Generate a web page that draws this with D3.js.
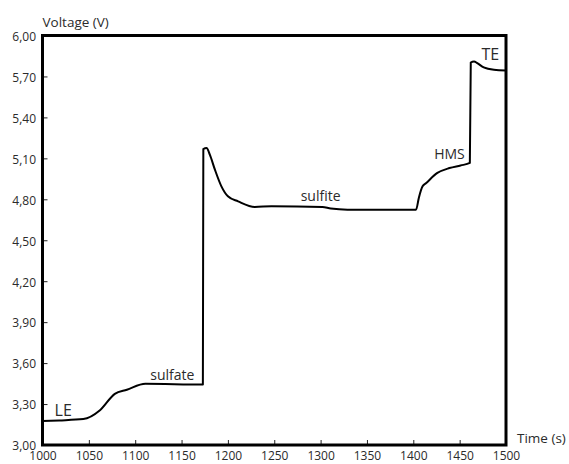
<!DOCTYPE html>
<html>
<head>
<meta charset="utf-8">
<script src="https://cdn.jsdelivr.net/npm/d3@7"></script>
<style>
  html, body { margin: 0; padding: 0; background: #fff; }
  text { font-family: "Open Sans", "Noto Sans", sans-serif; fill: #2b2b2b; }
</style>
</head>
<body>
<svg id="chart" width="569" height="464"></svg>
<script>
// time (s) and voltage (V)
const times = [1000, 1018, 1044, 1062, 1078, 1091, 1111, 1173,
  1173.5, 1177, 1180.5, 1186, 1193, 1200, 1211, 1229, 1247, 1302, 1311, 1329, 1403,
  1406, 1410, 1414, 1426, 1439, 1451, 1461,
  1462, 1465.5, 1469, 1476, 1487, 1500];
const volts = [3.175, 3.18, 3.19, 3.255, 3.375, 3.405, 3.448, 3.443,
  5.168, 5.176, 5.127, 5.017, 4.895, 4.822, 4.785, 4.744, 4.749, 4.744, 4.732, 4.724, 4.724,
  4.812, 4.895, 4.92, 4.993, 5.029, 5.048, 5.066,
  5.802, 5.81, 5.798, 5.766, 5.749, 5.744];

const xTicks = [1000, 1050, 1100, 1150, 1200, 1250, 1300, 1350, 1400, 1450, 1500];
const yTicks = [3.0, 3.3, 3.6, 3.9, 4.2, 4.5, 4.8, 5.1, 5.4, 5.7, 6.0];

const zoneLabels = ["LE", "sulfate", "sulfite", "HMS", "TE"];
const zoneTimes = [1013, 1140, 1300, 1439, 1483];
const zoneVolts = [3.21, 3.477, 4.787, 5.095, 5.82];
const zoneSizes = [16, 14, 14, 14, 16];

const margin = { top: 35.5, right: 63, bottom: 19, left: 42.5 };
const svg = d3.select("#chart");
const width = +svg.attr("width"), height = +svg.attr("height");

const x = d3.scaleLinear().domain([1000, 1500]).range([margin.left, width - margin.right]);
const y = d3.scaleLinear().domain([3, 6]).range([height - margin.bottom, margin.top]);

const fmt = d => d.toFixed(2).replace(".", ",");

svg.append("g")
  .attr("transform", `translate(0,${y(3)})`)
  .call(d3.axisBottom(x).tickValues(xTicks).tickSize(-5).tickPadding(6).tickFormat(d3.format("d")))
  .call(g => g.select(".domain").remove())
  .call(g => g.selectAll("text").style("font-size", "12px"))
  .call(g => g.selectAll("line").attr("stroke", "#222"));

svg.append("g")
  .attr("transform", `translate(${x(1000)},0)`)
  .call(d3.axisLeft(y).tickValues(yTicks).tickSize(-5).tickPadding(6.5).tickFormat(fmt))
  .call(g => g.select(".domain").remove())
  .call(g => g.selectAll("text").style("font-size", "12px").attr("dy", "0.4em"))
  .call(g => g.selectAll("line").attr("stroke", "#222"));

svg.append("rect")
  .attr("x", x(1000)).attr("y", y(6))
  .attr("width", x(1500) - x(1000)).attr("height", y(3) - y(6))
  .attr("fill", "none").attr("stroke", "#000").attr("stroke-width", 3);

const line = d3.line().x((d, i) => x(times[i])).y(d => y(d)).curve(d3.curveMonotoneX);
svg.append("path")
  .datum(volts)
  .attr("d", line)
  .attr("fill", "none").attr("stroke", "#000").attr("stroke-width", 2)
  .attr("stroke-linejoin", "round");

svg.selectAll(".zone")
  .data(zoneLabels)
  .join("text")
  .attr("class", "zone")
  .attr("x", (d, i) => x(zoneTimes[i]))
  .attr("y", (d, i) => y(zoneVolts[i]))
  .attr("text-anchor", (d, i) => i === 0 ? "start" : "middle")
  .style("font-size", (d, i) => zoneSizes[i] + "px")
  .text(d => d);

svg.append("text")
  .attr("x", x(1000)).attr("y", 27)
  .style("font-size", "13.5px")
  .text("Voltage (V)");

svg.append("text")
  .attr("x", 517).attr("y", 443)
  .style("font-size", "13.5px")
  .text("Time (s)");
</script>
</body>
</html>
